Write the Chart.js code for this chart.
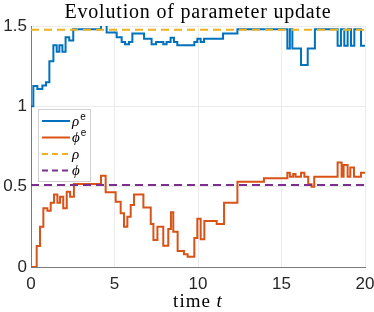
<!DOCTYPE html>
<html>
<head>
<meta charset="utf-8">
<script src="https://cdn.jsdelivr.net/npm/chart.js@4/dist/chart.umd.min.js"></script>
<style>
  html, body { margin: 0; padding: 0; background: #fff; }
  #wrap { width: 374px; height: 312px; }
</style>
</head>
<body>
<div id="wrap"><canvas id="c" width="374" height="312"></canvas></div>
<script>
// step times and values
const rhoTimes = [0, 0.14, 0.38, 0.68, 0.9, 1.1, 1.34, 1.54, 1.7, 1.88, 2.07, 2.29, 2.53,
  4.19, 4.53, 5.13, 5.43, 5.63, 5.87, 6.07, 6.77, 7.22, 7.49, 7.92, 8.12, 8.36, 8.56, 8.76,
  9.78, 9.96, 10.16, 10.36, 11.5, 12.36, 15.35, 15.5, 15.65, 16.17, 16.57, 17.0,
  18.36, 18.56, 18.76, 18.96, 19.16, 19.36, 19.76, 20];
const rhoValues = [1.0, 1.126, 1.108, 1.13, 1.15, 1.28, 1.38, 1.34, 1.38, 1.34, 1.43, 1.41, 1.48,
  1.51, 1.46, 1.43, 1.40, 1.386, 1.40, 1.454, 1.42, 1.386, 1.40, 1.386, 1.40, 1.427, 1.40, 1.38,
  1.40, 1.42, 1.40, 1.42, 1.454, 1.48, 1.36, 1.48, 1.36, 1.257, 1.36, 1.48,
  1.377, 1.48, 1.377, 1.48, 1.377, 1.48, 1.377, 1.377];

const phiTimes = [0, 0.34, 0.54, 0.74, 0.98, 1.18, 1.38, 1.58, 1.74, 1.93, 2.14, 2.34, 2.57,
  4.19, 4.47, 5.07, 5.37, 5.57, 5.77, 5.97, 6.17, 6.73, 7.17, 7.33, 7.57, 7.92, 8.22, 8.38,
  8.52, 8.78, 9.16, 9.38, 9.78, 9.96, 10.16, 10.38, 11.12, 11.56, 12.36, 13.95,
  15.35, 15.5, 15.7, 15.84, 16.17, 16.37, 16.6, 16.8, 16.96, 18.36, 18.6, 18.72, 18.96,
  19.12, 19.34, 19.76, 20];
const phiValues = [0, 0.13, 0.25, 0.365, 0.35, 0.40, 0.452, 0.40, 0.437, 0.365, 0.469, 0.437, 0.516,
  0.568, 0.465, 0.406, 0.334, 0.25, 0.313, 0.386, 0.452, 0.37, 0.268, 0.168, 0.25, 0.133, 0.236, 0.34,
  0.22, 0.10, 0.079, 0.064, 0.18, 0.30, 0.172, 0.286, 0.268, 0.40, 0.53, 0.552,
  0.587, 0.562, 0.579, 0.562, 0.587, 0.562, 0.515, 0.50, 0.562, 0.65, 0.562, 0.635, 0.562,
  0.62, 0.562, 0.587, 0.587];

const rhoTrue = 1.477;
const phiTrue = 0.51;
const timeRange = [0, 20];
const xTicks = [0, 5, 10, 15, 20];
const yTicks = [0, 0.5, 1, 1.5];
const yTickLabels = ['0', '0.5', '1', '1.5'];

const BLUE = '#0072BD', ORANGE = '#D95319', YELLOW = '#EDB120', PURPLE = '#7E2F8E';

function pts(ts, vs) { return ts.map((t, i) => ({ x: t, y: vs[i] })); }
function flat(v) { return timeRange.map(t => ({ x: t, y: v })); }

const serif = "'Liberation Serif', 'DejaVu Serif', serif";

const legendItems = [
  { sym: 'ρ', sup: 'e', color: BLUE, dash: [] },
  { sym: 'ϕ', sup: 'e', color: ORANGE, dash: [] },
  { sym: 'ρ', sup: '', color: YELLOW, dash: [6, 4] },
  { sym: 'ϕ', sup: '', color: PURPLE, dash: [6, 4] }
];

const extras = {
  id: 'extras',
  afterDraw(chart) {
    const ctx = chart.ctx, ca = chart.chartArea;
    const mid = (ca.left + ca.right) / 2;
    ctx.save();
    // title
    ctx.fillStyle = '#000';
    ctx.textAlign = 'center';
    ctx.textBaseline = 'alphabetic';
    ctx.font = '20px ' + serif;
    ctx.letterSpacing = '0.8px';
    ctx.fillText('Evolution of parameter update', mid, 18);

    // x label "time t"
    ctx.letterSpacing = '1px';
    ctx.font = '19px ' + serif;
    const a = 'time ', b = 't';
    const wa = ctx.measureText(a).width;
    ctx.font = 'italic 19px ' + serif;
    const wb = ctx.measureText(b).width;
    const x0 = mid - (wa + wb) / 2;
    ctx.textAlign = 'left';
    ctx.font = '19px ' + serif;
    ctx.fillText(a, x0, 307);
    ctx.font = 'italic 19px ' + serif;
    ctx.fillText(b, x0 + wa, 307);
    ctx.letterSpacing = '0px';

    // legend box
    const bx = ca.left + 7, by = ca.top + 83, bw = 52, bh = 72;
    ctx.fillStyle = '#fff';
    ctx.fillRect(bx, by, bw, bh);
    ctx.strokeStyle = '#d0d0d0';
    ctx.lineWidth = 1;
    ctx.strokeRect(bx + 0.5, by + 0.5, bw, bh);
    legendItems.forEach((it, i) => {
      const y = by + 12 + i * 16.5;
      ctx.beginPath();
      ctx.setLineDash(it.dash);
      ctx.strokeStyle = it.color;
      ctx.lineWidth = 2;
      ctx.moveTo(bx + 4, y);
      ctx.lineTo(bx + 32, y);
      ctx.stroke();
      ctx.setLineDash([]);
      ctx.fillStyle = '#000';
      ctx.textBaseline = 'middle';
      ctx.font = 'italic 15px ' + serif;
      ctx.fillText(it.sym, bx + 34, y + 1);
      if (it.sup) {
        const w = ctx.measureText(it.sym).width;
        ctx.font = '10px ' + "'Liberation Sans', sans-serif";
        ctx.fillText(it.sup, bx + 35 + w, y - 4);
      }
    });
    ctx.restore();
  }
};

new Chart(document.getElementById('c'), {
  type: 'line',
  data: {
    datasets: [
      { label: 'rho_e', data: pts(rhoTimes, rhoValues), borderColor: BLUE, borderWidth: 2, stepped: true, order: 2 },
      { label: 'phi_e', data: pts(phiTimes, phiValues), borderColor: ORANGE, borderWidth: 2, stepped: true, order: 2 },
      { label: 'rho', data: flat(rhoTrue), borderColor: YELLOW, borderWidth: 2, borderDash: [8, 5], order: 1 },
      { label: 'phi', data: flat(phiTrue), borderColor: PURPLE, borderWidth: 2, borderDash: [8, 5], order: 1 }
    ]
  },
  options: {
    responsive: false,
    animation: false,
    events: [],
    elements: { point: { radius: 0 }, line: { tension: 0, borderCapStyle: 'butt' } },
    layout: { padding: { top: 26, right: 9, left: 0, bottom: 0 } },
    plugins: { legend: { display: false }, tooltip: { enabled: false }, title: { display: false } },
    scales: {
      x: {
        type: 'linear',
        min: timeRange[0], max: timeRange[1],
        afterBuildTicks: s => { s.ticks = xTicks.map(v => ({ value: v })); },
        afterFit: s => { s.height = 45; s.paddingLeft = 0; s.paddingRight = 0; },
        ticks: { font: { family: "'Liberation Sans', sans-serif", size: 17 }, color: '#262626', padding: 7, maxRotation: 0 },
        grid: { color: '#ebebeb', drawTicks: false },
        border: { color: '#7a7a7a', width: 1 }
      },
      y: {
        min: 0, max: 1.5,
        afterBuildTicks: s => { s.ticks = yTicks.map(v => ({ value: v })); },
        afterFit: s => { s.width = 31; s.paddingTop = 0; s.paddingBottom = 0; },
        ticks: {
          font: { family: "'Liberation Sans', sans-serif", size: 17 }, color: '#262626', padding: 4,
          callback: v => yTickLabels[yTicks.indexOf(v)]
        },
        grid: { color: '#ebebeb', drawTicks: false },
        border: { color: '#7a7a7a', width: 1 }
      }
    }
  },
  plugins: [extras]
});
</script>
</body>
</html>
